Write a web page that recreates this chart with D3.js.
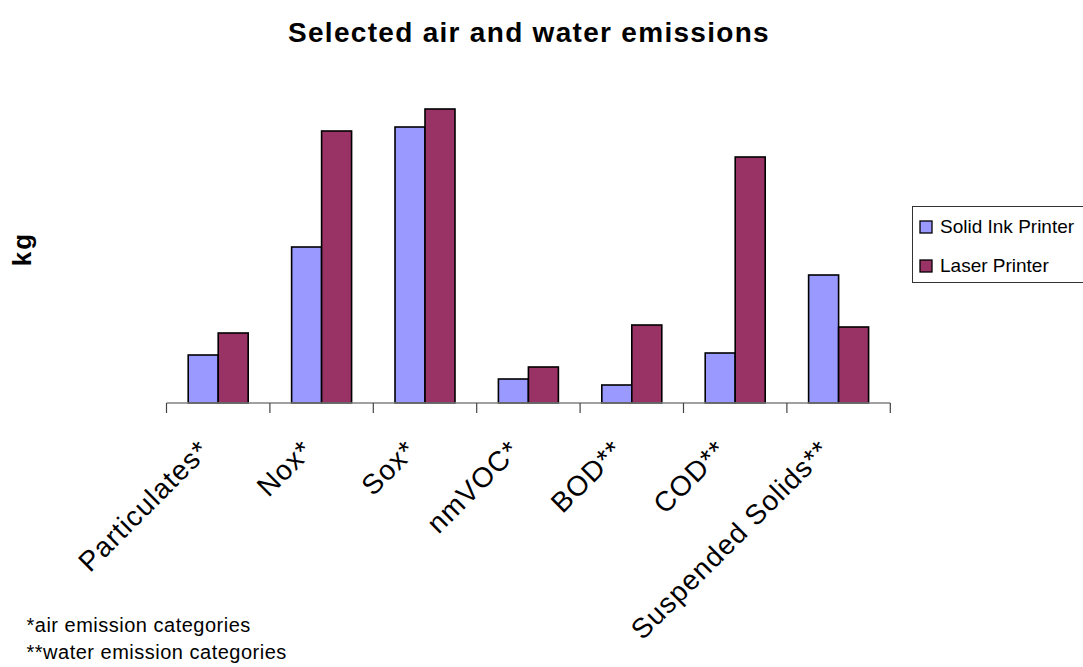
<!DOCTYPE html>
<html>
<head>
<meta charset="utf-8">
<script src="https://cdn.jsdelivr.net/npm/d3@7"></script>
<style>
  html, body { margin: 0; padding: 0; background: #fff; }
  svg { display: block; font-family: "Liberation Sans", Arial, sans-serif; }
</style>
</head>
<body>
<svg id="chart" width="1083" height="667"></svg>
<script>
// Emission categories along the x axis
const categories = ["Particulates*", "Nox*", "Sox*", "nmVOC*", "BOD**", "COD**", "Suspended Solids**"];
// Series names
const seriesNames = ["Solid Ink Printer", "Laser Printer"];
// Series values (kg)
const solidInk = [48, 156, 276, 24, 18, 50, 128];
const laser    = [70, 272, 294, 36, 78, 246, 76];
const seriesColors = ["#9999FF", "#993366"];
// Footnotes under the chart
const footnotes = ["*air emission categories", "**water emission categories"];

const svg = d3.select("#chart");

const plot = { left: 166.5, right: 890.3, top: 103, bottom: 403 };

const x = d3.scaleBand()
  .domain(categories)
  .range([plot.left, plot.right])
  .paddingInner(0)
  .paddingOuter(0);

const xSub = d3.scaleBand()
  .domain(seriesNames)
  .range([0, x.bandwidth()])
  .paddingInner(0)
  .paddingOuter(0.724);

const y = d3.scaleLinear()
  .domain([0, 300])
  .range([plot.bottom, plot.top]);

const rows = categories.map((c, i) => ({ cat: c, values: [solidInk[i], laser[i]] }));

// Title
svg.append("text")
  .attr("x", 529)
  .attr("y", 42)
  .attr("text-anchor", "middle")
  .attr("font-size", 28)
  .attr("font-weight", "bold")
  .attr("letter-spacing", 1.3)
  .text("Selected air and water emissions");

// Y axis title
svg.append("text")
  .attr("transform", "translate(31,249) rotate(-90)")
  .attr("text-anchor", "middle")
  .attr("font-size", 26)
  .attr("font-weight", "bold")
  .attr("letter-spacing", 2)
  .text("kg");

// Bars
const groups = svg.append("g").selectAll("g")
  .data(rows)
  .join("g")
  .attr("transform", d => `translate(${x(d.cat)},0)`);

groups.selectAll("rect")
  .data(d => d.values.map((v, j) => ({ name: seriesNames[j], value: v, color: seriesColors[j] })))
  .join("rect")
  .attr("x", d => xSub(d.name))
  .attr("y", d => y(d.value))
  .attr("width", xSub.bandwidth())
  .attr("height", d => y(0) - y(d.value))
  .attr("fill", d => d.color)
  .attr("stroke", "#000")
  .attr("stroke-width", 1.6);

// Category axis: baseline and ticks at band boundaries
const axis = svg.append("g");
axis.append("line")
  .attr("x1", plot.left).attr("x2", plot.right)
  .attr("y1", plot.bottom).attr("y2", plot.bottom)
  .attr("stroke", "#808080").attr("stroke-width", 1.3);

const tickPositions = categories.map(c => x(c)).concat([x(categories[categories.length - 1]) + x.bandwidth()]);
axis.selectAll("line.tick")
  .data(tickPositions)
  .join("line")
  .attr("class", "tick")
  .attr("x1", d => d).attr("x2", d => d)
  .attr("y1", plot.bottom).attr("y2", plot.bottom + 10)
  .attr("stroke", "#444").attr("stroke-width", 1.2);

// Rotated category labels
axis.selectAll("text.cat")
  .data(categories)
  .join("text")
  .attr("class", "cat")
  .attr("transform", d => `translate(${x(d) + x.bandwidth() / 2 - 7},452) rotate(-45)`)
  .attr("text-anchor", "end")
  .attr("font-size", 28)
  .attr("letter-spacing", 1.1)
  .text(d => d);

// Legend
const legend = svg.append("g");
legend.append("rect")
  .attr("x", 912.5).attr("y", 206.5)
  .attr("width", 200).attr("height", 76)
  .attr("fill", "#fff")
  .attr("stroke", "#333").attr("stroke-width", 1);

const legendRows = legend.selectAll("g.item")
  .data(seriesNames)
  .join("g")
  .attr("class", "item")
  .attr("transform", (d, i) => `translate(920,${221 + i * 39})`);

legendRows.append("rect")
  .attr("width", 12).attr("height", 12)
  .attr("fill", (d, i) => seriesColors[i])
  .attr("stroke", "#000").attr("stroke-width", 1.3);

legendRows.append("text")
  .attr("x", 20)
  .attr("y", 12)
  .attr("font-size", 19)
  .text(d => d);

// Footnotes
svg.selectAll("text.note")
  .data(footnotes)
  .join("text")
  .attr("class", "note")
  .attr("x", 26.5)
  .attr("y", (d, i) => 632 + i * 27)
  .attr("font-size", 20)
  .attr("letter-spacing", 0.5)
  .text(d => d);
</script>
</body>
</html>
